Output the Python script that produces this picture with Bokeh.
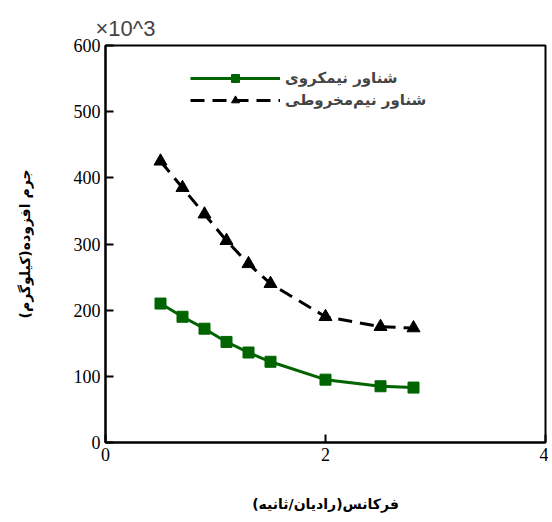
from bokeh.plotting import figure
from bokeh.models import Legend, LegendItem
from bokeh.embed import file_html
from bokeh.resources import INLINE

freq = [0.5, 0.7, 0.9, 1.1, 1.3, 1.5, 2.0, 2.5, 2.8]
mass_spherical = [210, 190, 172, 152, 136, 122, 95, 85, 83]
mass_conical = [425, 385, 345, 305, 270, 240, 190, 175, 173]
names = ["شناور نیمکروی", "شناور نیم‌مخروطی"]

p = figure(width=548, height=514, x_range=(0, 4), y_range=(0, 600),
           output_backend="svg", toolbar_location=None,
           min_border_left=105, min_border_top=45, min_border_right=3, min_border_bottom=69)
p.outline_line_color = "black"
p.outline_line_width = 2
p.grid.visible = False
p.title.text = "×10^3"
p.title.text_font = "Liberation Sans"
p.title.text_font_size = "22px"
p.title.text_font_style = "normal"
p.title.offset = -10

for ax in (p.xaxis, p.yaxis):
    ax.axis_line_width = 2
    ax.major_tick_in = 8
    ax.major_tick_out = 0
    ax.minor_tick_in = 4
    ax.minor_tick_out = 0
    ax.major_tick_line_width = 2
    ax.major_label_text_font = "Liberation Serif"
    ax.major_label_text_font_size = "18px"
    ax.major_label_text_color = "black"
    ax.axis_label_text_color = "black"
    ax.axis_label_text_font = "DejaVu Sans"
    ax.axis_label_text_font_style = "bold"
    ax.axis_label_text_font_size = "14px"
p.xaxis.ticker = [0, 2, 4]
p.xaxis.ticker.num_minor_ticks = 5
p.yaxis.ticker = [0, 100, 200, 300, 400, 500, 600]
p.xaxis.axis_label = "فرکانس(رادیان/ثانیه)"
p.yaxis.axis_label = "جرم افزوده(کیلوگرم)"
p.xaxis.axis_label_standoff = 32
p.yaxis.axis_label_standoff = 38

l1 = p.line(freq, mass_spherical, line_color="#006400", line_width=3)
m1 = p.scatter(freq, mass_spherical, marker="square", size=11, color="#006400")
l2 = p.line(freq, mass_conical, line_color="black", line_width=3, line_dash="14 8")
m2 = p.scatter(freq, mass_conical, marker="triangle", size=13, color="black")

legend = Legend(items=[LegendItem(label=names[0], renderers=[l1, m1]),
                       LegendItem(label=names[1], renderers=[l2, m2])],
                location=(75, 322), border_line_alpha=0, background_fill_alpha=0,
                glyph_width=90, label_text_font="DejaVu Sans",
                label_text_font_style="bold", label_text_font_size="15px", spacing=2)
p.add_layout(legend, "center")

open("out.html", "w").write(file_html(p, INLINE))
